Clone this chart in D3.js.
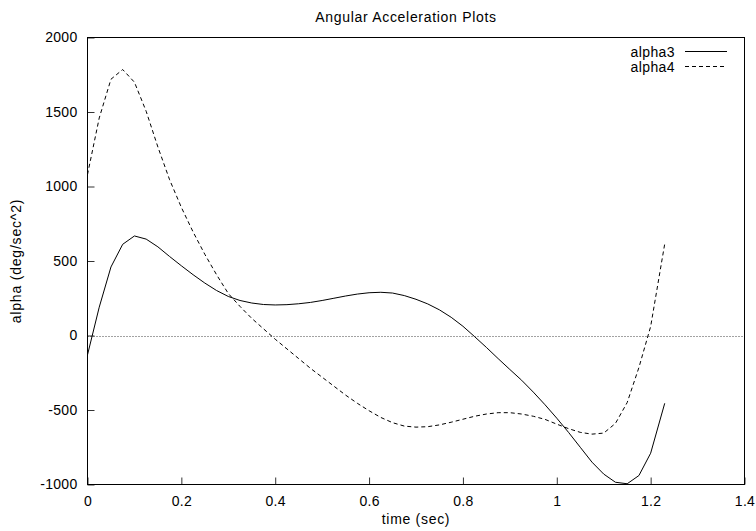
<!DOCTYPE html>
<html><head><meta charset="utf-8">
<script src="https://cdn.jsdelivr.net/npm/d3@7"></script>
<style>body{margin:0;background:#fff}svg{display:block}text{font-family:"Liberation Sans",Arial,sans-serif;fill:#000}</style>
</head><body><svg id="c" width="756" height="531"></svg>
<script>
const time = [0,0.025,0.05,0.075,0.1,0.125,0.15,0.175,0.2,0.225,0.25,0.275,0.3,0.325,0.35,0.375,0.4,0.425,0.45,0.475,0.5,0.525,0.55,0.575,0.6,0.625,0.65,0.675,0.7,0.725,0.75,0.775,0.8,0.825,0.85,0.875,0.9,0.925,0.95,0.975,1.0,1.025,1.05,1.075,1.1,1.125,1.15,1.175,1.2,1.23];
const alpha3 = [-130,190,460,612,668,647,595,530,468,408,352,302,262,235,218,208,205,207,213,222,235,250,265,278,287,290,285,268,243,212,172,122,62,-8,-80,-155,-228,-300,-380,-465,-555,-650,-750,-850,-930,-985,-995,-940,-790,-455];
const alpha4 = [1080,1460,1720,1785,1700,1505,1265,1045,860,695,545,408,282,195,115,45,-25,-90,-155,-220,-280,-340,-400,-455,-505,-550,-585,-608,-615,-612,-600,-582,-562,-542,-527,-518,-518,-527,-542,-563,-595,-625,-650,-662,-655,-590,-450,-215,60,615];
const xTicks = [0,0.2,0.4,0.6,0.8,1,1.2,1.4];
const yTicks = [-1000,-500,0,500,1000,1500,2000];
const seriesNames = ["alpha3","alpha4"];
const title = "Angular Acceleration Plots";
const xLabel = "time (sec)";
const yLabel = "alpha (deg/sec^2)";

const svg = d3.select("#c");
const L=87.5, R=744.5, T=37.5, B=484.5;
const x = d3.scaleLinear().domain([0,1.4]).range([L,R]);
const y = d3.scaleLinear().domain([-1000,2000]).range([B,T]);

svg.append("defs").append("clipPath").attr("id","clip")
  .append("rect").attr("x",L).attr("y",T).attr("width",R-L).attr("height",B-T);

// zero line
svg.append("line").attr("x1",L).attr("x2",R).attr("y1",Math.round(y(0))+0.5).attr("y2",Math.round(y(0))+0.5)
  .attr("stroke","#444").attr("stroke-dasharray","1,2").attr("stroke-width",1);

// axes
const fmt = d => String(d);
const xAxis = d3.axisBottom(x).tickValues(xTicks).tickSizeInner(-7).tickSizeOuter(0).tickPadding(12).tickFormat(fmt);
const yAxis = d3.axisLeft(y).tickValues(yTicks).tickSizeInner(-7).tickSizeOuter(0).tickPadding(10).tickFormat(fmt);
const gx = svg.append("g").attr("transform",`translate(0,${B})`).call(xAxis);
const gy = svg.append("g").attr("transform",`translate(${L},0)`).call(yAxis);
[gx,gy].forEach(g=>{
  g.select(".domain").remove();
  g.selectAll(".tick line").attr("stroke","#333");
  g.selectAll(".tick text").attr("font-size",14).attr("letter-spacing","0.3px").attr("font-family","Liberation Sans, Arial, sans-serif");
});

// border
svg.append("rect").attr("x",L).attr("y",T).attr("width",R-L).attr("height",B-T)
  .attr("fill","none").attr("stroke","#000").attr("stroke-width",1).attr("shape-rendering","crispEdges");

const line = d3.line().x((d,i)=>x(time[i])).y(d=>y(d));
const g = svg.append("g").attr("clip-path","url(#clip)");
g.append("path").attr("d",line(alpha3)).attr("fill","none").attr("stroke","#000").attr("stroke-width",1);
g.append("path").attr("d",line(alpha4)).attr("fill","none").attr("stroke","#000").attr("stroke-width",1).attr("stroke-dasharray","4,3");

// legend
const dashes = [null,"4,3"];
seriesNames.forEach((n,i)=>{
  const yy = 51.5 + i*15;
  svg.append("text").attr("x",675).attr("y",yy+5).attr("text-anchor","end").attr("font-size",14).attr("letter-spacing","0.4px").text(n);
  svg.append("line").attr("x1",685).attr("x2",727).attr("y1",yy).attr("y2",yy)
    .attr("stroke","#000").attr("stroke-width",1).attr("stroke-dasharray",dashes[i]);
});

// titles
svg.append("text").attr("x",406).attr("y",22).attr("text-anchor","middle").attr("font-size",14).attr("letter-spacing","0.7px").text(title);
svg.append("text").attr("x",416).attr("y",524).attr("text-anchor","middle").attr("font-size",14).attr("letter-spacing","0.7px").text(xLabel);
svg.append("text").attr("transform","translate(21,261) rotate(-90)").attr("text-anchor","middle").attr("font-size",14).attr("letter-spacing","0.8px").text(yLabel);
</script></body></html>
